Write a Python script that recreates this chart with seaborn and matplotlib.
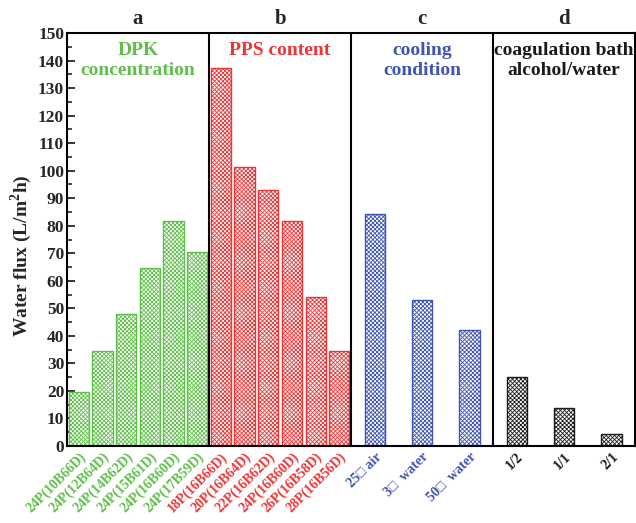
import seaborn as sns
import matplotlib.pyplot as plt
import pandas as pd

sns.set_style('ticks')
plt.rcParams['font.family'] = ['Liberation Serif', 'DejaVu Serif']
plt.rcParams['font.weight'] = 'bold'
plt.rcParams['mathtext.fontset'] = 'custom'
plt.rcParams['mathtext.rm'] = 'Liberation Serif:bold'
plt.rcParams['mathtext.bf'] = 'Liberation Serif:bold'
plt.rcParams['hatch.linewidth'] = 0.6

# panel a: DPK concentration
dpk_labels = ['24P(10B66D)', '24P(12B64D)', '24P(14B62D)', '24P(15B61D)', '24P(16B60D)', '24P(17B59D)']
dpk_flux = [19.5, 34.5, 47.8, 64.5, 81.8, 70.6]
# panel b: PPS content
pps_labels = ['18P(16B66D)', '20P(16B64D)', '22P(16B62D)', '24P(16B60D)', '26P(16B58D)', '28P(16B56D)']
pps_flux = [137.2, 101.3, 93.0, 81.8, 54.1, 34.4]
# panel c: cooling condition
cool_labels = ['25\u25a1 air', '3\u25a1  water', '50\u25a1  water']
cool_flux = [84.2, 52.9, 42.0]
# panel d: coagulation bath alcohol/water
coag_labels = ['1/2', '1/1', '2/1']
coag_flux = [25.0, 13.8, 4.4]

groups = ['a', 'b', 'c', 'd']
titles = ['DPK\nconcentration', 'PPS content', 'cooling\ncondition', 'coagulation bath\nalcohol/water']
colors = {'a': '#5fbf4a', 'b': '#ee3535', 'c': '#3f55b0', 'd': '#1a1a1a'}

# lay out positions: a,b one slot per bar, c,d two slots per bar
rows = []
start = 0.0
bounds = []
for g, labs, vals, step in zip(groups, [dpk_labels, pps_labels, cool_labels, coag_labels],
                               [dpk_flux, pps_flux, cool_flux, coag_flux], [1, 1, 2, 2]):
    left = start - 0.5
    for i, (l, v) in enumerate(zip(labs, vals)):
        pos = start + i * step + (step - 1) / 2
        rows.append({'pos': pos, 'flux': v, 'group': g, 'label': l})
    start = start + len(vals) * step
    bounds.append((left, start - 0.5))
df = pd.DataFrame(rows)

fig = plt.figure(figsize=(6.36, 5.23), dpi=100)
ax = fig.add_axes([0.1053, 0.1472, 0.8935, 0.7897])
sns.barplot(data=df, x='pos', y='flux', hue='group', palette=colors, native_scale=True,
            dodge=False, width=0.85, legend=False, ax=ax)

bar_colors = [colors[g] for g in df['group']]
bars = sorted(ax.patches, key=lambda p: p.get_x())
for p, c in zip(bars, bar_colors):
    p.set_facecolor('white')
    p.set_edgecolor(c)
    p.set_hatch('xxxxxxxx')
    p.set_linewidth(1.0)

ax.set_xlim(-0.5, start - 0.5)
ax.set_ylim(0, 150)
ax.set_yticks(range(0, 151, 10))
ax.set_yticks(range(5, 150, 10), minor=True)
ax.tick_params(axis='y', which='major', direction='in', length=6, width=1.3, labelsize=12.5, pad=2)
ax.tick_params(axis='y', which='minor', direction='in', length=3.5, width=1.2)
ax.tick_params(axis='x', direction='in', length=5, width=1.3, pad=3)
ax.set_xticks(df['pos'])
ax.set_xticklabels(df['label'], rotation=45, ha='right', rotation_mode='anchor', fontsize=10)
for t, c in zip(ax.get_xticklabels(), bar_colors):
    t.set_color(c)
    t.set_fontweight('bold')
for t in ax.get_yticklabels():
    t.set_fontweight('bold')

for s in ax.spines.values():
    s.set_visible(True)
    s.set_linewidth(1.5)
    s.set_color('black')

ax.set_xlabel('')
ax.set_ylabel('Water flux (L/m$^\\mathbf{2}$h)', fontsize=14, fontweight='bold')
ax.yaxis.set_label_coords(-0.058, 0.462)

trans = ax.get_xaxis_transform()
for g, title, (l, r) in zip(groups, titles, bounds):
    if r < start - 0.5:
        ax.axvline(r, color='black', lw=1.5)
    mid = (l + r) / 2
    ax.text(mid, 1.035, g, transform=trans, ha='center', va='center', fontsize=15, fontweight='bold')
    ax.text(mid, 0.978, title, transform=trans, ha='center', va='top', fontsize=14,
            fontweight='bold', color=colors[g], linespacing=1.2)

fig.savefig('out.png', dpi=100)
